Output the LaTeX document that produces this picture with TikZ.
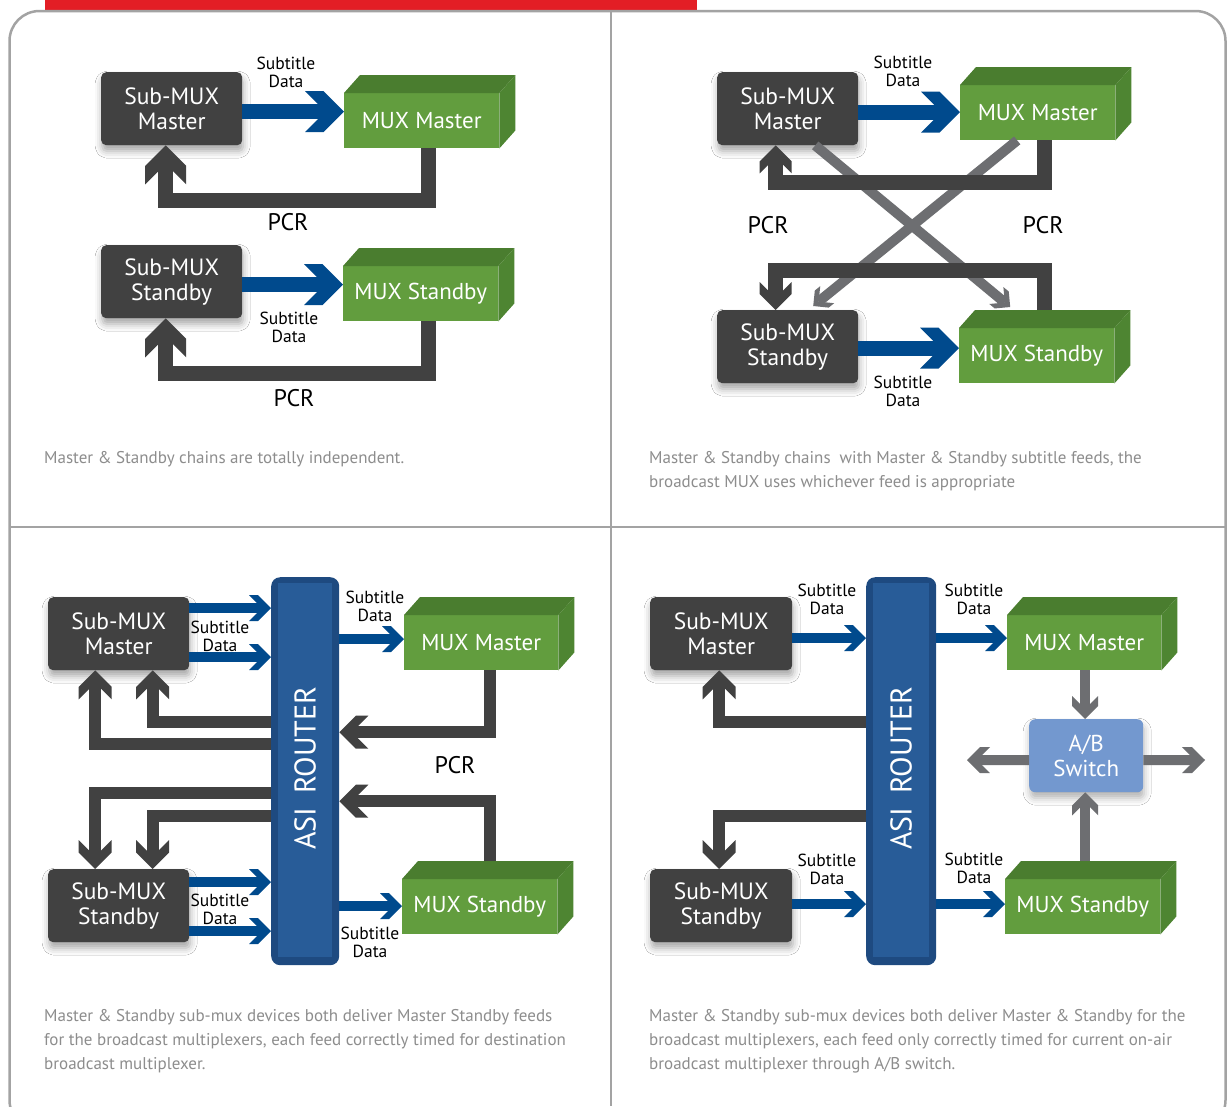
\documentclass[tikz,border=0pt]{standalone}
\usepackage{fontspec}
\setmainfont{PT Sans}
\usetikzlibrary{arrows.meta,calc,shadows.blur}

\definecolor{dkbox}{HTML}{414141}
\definecolor{blueA}{HTML}{004A8D}
\definecolor{gfront}{HTML}{629D3E}
\definecolor{gtop}{HTML}{4A7D2F}
\definecolor{gside}{HTML}{4E8532}
\definecolor{rmain}{HTML}{285C98}
\definecolor{redge}{HTML}{1E4A80}
\definecolor{abblue}{HTML}{7398CF}
\definecolor{grayA}{HTML}{6D6E71}
\definecolor{framec}{HTML}{A3A3A3}
\definecolor{redbar}{HTML}{E31E25}
\definecolor{capgray}{HTML}{8D8D8D}

\newdimen\chevd
\pgfdeclarearrow{
  name = Chev,
  defaults = {length = 39pt, width = 41pt},
  parameters = {\the\pgfarrowlength,\the\pgfarrowwidth},
  setup code = {
    \pgfarrowssettipend{0pt}
    \pgfarrowssetbackend{-\pgfarrowlength}
    \chevd=\pgfarrowlength
    \advance\chevd by -.5\pgfarrowwidth
    \pgfarrowssetlineend{-\chevd}
    \pgfarrowssavethe\pgfarrowlength
    \pgfarrowssavethe\pgfarrowwidth
  },
  drawing code = {
    \chevd=\pgfarrowlength
    \advance\chevd by -.5\pgfarrowwidth
    \pgfpathmoveto{\pgfqpoint{0pt}{0pt}}
    \pgfpathlineto{\pgfqpoint{-.5\pgfarrowwidth}{.5\pgfarrowwidth}}
    \pgfpathlineto{\pgfqpoint{-\pgfarrowlength}{.5\pgfarrowwidth}}
    \pgfpathlineto{\pgfqpoint{-\chevd}{0pt}}
    \pgfpathlineto{\pgfqpoint{-\pgfarrowlength}{-.5\pgfarrowwidth}}
    \pgfpathlineto{\pgfqpoint{-.5\pgfarrowwidth}{-.5\pgfarrowwidth}}
    \pgfpathclose
    \pgfusepathqfill
  }
}

\newcommand\greenbox[5]{%
  \node[mux, minimum width=#4pt] (#1) at (#2,#3) {#5};
  \fill[gtop] (#1.north west) -- ++(16,-18) -- ($(#1.north east)+(16,-18)$) -- (#1.north east) -- cycle;
  \fill[gside] (#1.north east) -- ++(16,-18) -- ($(#1.south east)+(16,-18)$) -- (#1.south east) -- cycle;
}

\begin{document}
\begin{tikzpicture}[x=1pt,y=-1pt,
  sub/.style={fill=dkbox, rounded corners=5pt, text=white, font=\fontsize{23.5}{25}\selectfont,
    align=center, minimum width=141pt, minimum height=73pt, inner sep=0pt, anchor=north west,
    blur shadow={shadow xshift=1pt, shadow yshift=-6pt, shadow blur radius=7pt, shadow opacity=35}},
  mux/.style={fill=gfront, text=white, font=\fontsize{23}{25}\selectfont,
    minimum height=55pt, inner sep=0pt, anchor=north west},
  router/.style={fill=redge, rounded corners=9pt, minimum width=68pt, minimum height=388pt,
    inner sep=0pt, anchor=north west},
  rtext/.style={rotate=90, text=white, font=\fontsize{30}{30}\selectfont, inner sep=0pt},
  abox/.style={fill=abblue, rounded corners=6pt, text=white, font=\fontsize{23}{25}\selectfont,
    align=center, minimum width=114pt, minimum height=73pt, inner sep=0pt, anchor=north west,
    blur shadow={shadow xshift=1pt, shadow yshift=-6pt, shadow blur radius=7pt, shadow opacity=30}},
  lbl/.style={font=\fontsize{17.5}{18}\selectfont, align=center, inner sep=0pt},
  pcrlbl/.style={font=\fontsize{24}{26}\selectfont, inner sep=0pt},
  captxt/.style={font=\fontsize{17}{24}\selectfont, text=capgray, align=left, anchor=north west, inner sep=0pt},
  bigblue/.style={draw=blueA, line width=15pt, -{Chev[length=39pt,width=41pt]}},
  bigpcr/.style={draw=dkbox, line width=15pt, line join=miter, -{Chev[length=39pt,width=41pt]}},
  midpcr/.style={draw=dkbox, line width=15pt, line join=miter, -{Chev[length=28pt,width=32pt]}},
  xgray/.style={draw=grayA, line width=10pt, -{Chev[length=18pt,width=22pt]}},
  smblue/.style={draw=blueA, line width=10pt, -{Chev[length=22pt,width=26pt]}},
  smpcr/.style={draw=dkbox, line width=12pt, line join=miter, -{Chev[length=29pt,width=33pt]}},
  abgray/.style={draw=grayA, line width=10pt, -{Chev[length=23pt,width=26pt]}}
]
\useasboundingbox (0,0) rectangle (1230,1106);
\fill[white] (0,0) rectangle (1230,1106);
\fill[redbar] (45,0) rectangle (697,9.5);
\draw[framec, line width=2.5pt, rounded corners=30pt] (9.5,11) rectangle (1225.5,1130);
\draw[framec, line width=2.5pt] (611,11) -- (611,1106);
\draw[framec, line width=2.5pt] (9.5,527) -- (1225.5,527);

% ---------------- Panel 1
\node[sub] (sm1) at (101,72) {Sub-MUX\\Master};
\greenbox{mm1}{344}{93}{155}{MUX Master}
\node[sub] (ss1) at (101,245) {Sub-MUX\\Standby};
\greenbox{ms1}{343}{266}{155}{MUX Standby}
\draw[bigblue] ([yshift=-3pt]sm1.east) -- ([yshift=9pt]mm1.west);
\draw[bigpcr] ([xshift=7pt]mm1.south) -- ++(0,52.5) -| ([xshift=-6pt]sm1.south);
\draw[bigblue] ([yshift=-3pt]ss1.east) -- ([yshift=9pt]ms1.west);
\draw[bigpcr] ([xshift=8pt]ms1.south) -- ++(0,52.5) -| ([xshift=-6pt]ss1.south);
\node[lbl] (l1a) at (286,72) {Subtitle\\Data};
\node[lbl] (l1b) at (289,327) {Subtitle\\Data};
\node[pcrlbl] (p1a) at (288,222) {PCR};
\node[pcrlbl] (p1b) at (294,398) {PCR};
\node[captxt] (c1) at (44,451) {Master \& Standby chains are totally independent.};

% ---------------- Panel 2
\node[sub] (sm2) at (717,72) {Sub-MUX\\Master};
\greenbox{mm2}{960}{85}{155}{MUX Master}
\node[sub] (ss2) at (717,310) {Sub-MUX\\Standby};
\greenbox{ms2}{959}{328}{155}{MUX Standby}
\draw[bigblue] ([yshift=-3.5pt]sm2.east) -- ([yshift=0.5pt]mm2.west);
\draw[bigblue] ([yshift=-1.5pt]ss2.east) -- ([yshift=7.5pt]ms2.west);
\draw[xgray] ([xshift=27.5pt]sm2.south) -- ([xshift=-26.5pt,yshift=21pt]ms2.north);
\draw[xgray] ([xshift=-20.5pt]mm2.south) -- ([xshift=25.5pt,yshift=4pt]ss2.north);
\draw[midpcr] ([xshift=6.5pt]mm2.south) -- ++(0,42.5) -| ([xshift=-12pt]sm2.south);
\draw[midpcr] ([xshift=7.5pt,yshift=18pt]ms2.north) -- ++(0,-39.5) -| ([xshift=-12pt]ss2.north);
\node[lbl] (l2a) at (903,71.5) {Subtitle\\Data};
\node[lbl] (l2b) at (903,391) {Subtitle\\Data};
\node[pcrlbl] (p2a) at (768,225) {PCR};
\node[pcrlbl] (p2b) at (1043,225) {PCR};
\node[captxt] (c2) at (649,451) {Master \& Standby chains\ \ with Master \& Standby subtitle feeds, the\\broadcast MUX uses whichever feed is appropriate};

% ---------------- Panel 3
\node[sub] (sm3) at (48,597) {Sub-MUX\\Master};
\node[sub] (ss3) at (48,869) {Sub-MUX\\Standby};
\node[router] (r3) at (271,577) {};
\fill[rmain] ($(r3.north west)+(7,6)$) rectangle ($(r3.south east)+(-7,-8)$);
\node[rtext] (r3t) at ([yshift=3pt]r3.center) {ASI\hspace{0.45em}ROUTER};
\greenbox{mm3}{404}{615}{154}{MUX Master}
\greenbox{ms3}{402}{879}{155}{MUX Standby}
\draw[smblue] ([yshift=25.5pt]sm3.east) -- ([yshift=163pt]r3.west);
\draw[smblue] ([yshift=-23.5pt]sm3.east) -- ([yshift=114pt]r3.west);
\draw[smblue] ([yshift=23.5pt]ss3.east) -- ([yshift=-111pt]r3.west);
\draw[smblue] ([yshift=-25.5pt]ss3.east) -- ([yshift=-160pt]r3.west);
\draw[smpcr] ([yshift=27pt]r3.west) -| ([xshift=-23.5pt]sm3.south);
\draw[smpcr] ([yshift=49.5pt]r3.west) -| ([xshift=34pt]sm3.south);
\draw[smpcr] ([yshift=-21.5pt]r3.west) -| ([xshift=-23.5pt]ss3.north);
\draw[smpcr] ([yshift=-45pt]r3.west) -| ([xshift=34pt]ss3.north);
\draw[smblue] ([yshift=132pt]r3.east) -- ([yshift=3.5pt]mm3.west);
\draw[smblue] ([yshift=-135pt]r3.east) -- ([yshift=0.5pt]ms3.west);
\draw[smpcr] ([xshift=9pt]mm3.south) |- ([yshift=39pt]r3.east);
\draw[smpcr] ([xshift=10.5pt,yshift=18pt]ms3.north) |- ([yshift=-30pt]r3.east);
\node[lbl] (l3a) at (220,636.5) {Subtitle\\Data};
\node[lbl] (l3b) at (220,909) {Subtitle\\Data};
\node[lbl] (l3c) at (375,606) {Subtitle\\Data};
\node[lbl] (l3d) at (370,942.5) {Subtitle\\Data};
\node[pcrlbl] (p3) at (455,765) {PCR};
\node[captxt] (c3) at (44,1009) {Master \& Standby sub-mux devices both deliver Master Standby feeds\\for the broadcast multiplexers, each feed correctly timed for destination\\broadcast multiplexer.};

% ---------------- Panel 4
\node[sub, minimum width=142pt] (sm4) at (650,597) {Sub-MUX\\Master};
\node[sub, minimum width=142pt] (ss4) at (650,869) {Sub-MUX\\Standby};
\node[router, minimum width=70pt] (r4) at (866,577) {};
\fill[rmain] ($(r4.north west)+(7,6)$) rectangle ($(r4.south east)+(-7,-8)$);
\node[rtext] (r4t) at ([yshift=3pt]r4.center) {ASI\hspace{0.45em}ROUTER};
\greenbox{mm4}{1007}{615}{154}{MUX Master}
\greenbox{ms4}{1005}{879}{155}{MUX Standby}
\node[abox] (ab4) at (1029,719) {A/B\\Switch};
\coordinate (abL) at (967,760);
\coordinate (abR) at (1205,760);
\draw[smblue] ([yshift=-4.5pt]sm4.east) -- ([yshift=133pt]r4.west);
\draw[smblue] ([yshift=1.5pt]ss4.east) -- ([yshift=-133pt]r4.west);
\draw[smblue] ([yshift=133pt]r4.east) -- ([yshift=4.5pt]mm4.west);
\draw[smblue] ([yshift=-133pt]r4.east) -- ([yshift=2.5pt]ms4.west);
\draw[smpcr] ([yshift=49.5pt]r4.west) -| ([xshift=-2pt]sm4.south);
\draw[smpcr] ([yshift=-45pt]r4.west) -| ([xshift=-2pt]ss4.north);
\draw[abgray] ([xshift=1pt]mm4.south) -- ([xshift=-1pt]ab4.north);
\draw[abgray] ([xshift=2.5pt,yshift=18pt]ms4.north) -- ([xshift=-1pt]ab4.south);
\draw[abgray] ([yshift=-4.5pt]ab4.west) -- (abL);
\draw[abgray] ([yshift=-4.5pt]ab4.east) -- (abR);
\node[lbl] (l4a) at (827,599) {Subtitle\\Data};
\node[lbl] (l4b) at (827,869) {Subtitle\\Data};
\node[lbl] (l4c) at (974,599) {Subtitle\\Data};
\node[lbl] (l4d) at (974,868) {Subtitle\\Data};
\node[captxt] (c4) at (649,1009) {Master \& Standby sub-mux devices both deliver Master \& Standby for the\\broadcast multiplexers, each feed only correctly timed for current on-air\\broadcast multiplexer through A/B switch.};
\end{tikzpicture}
\end{document}
